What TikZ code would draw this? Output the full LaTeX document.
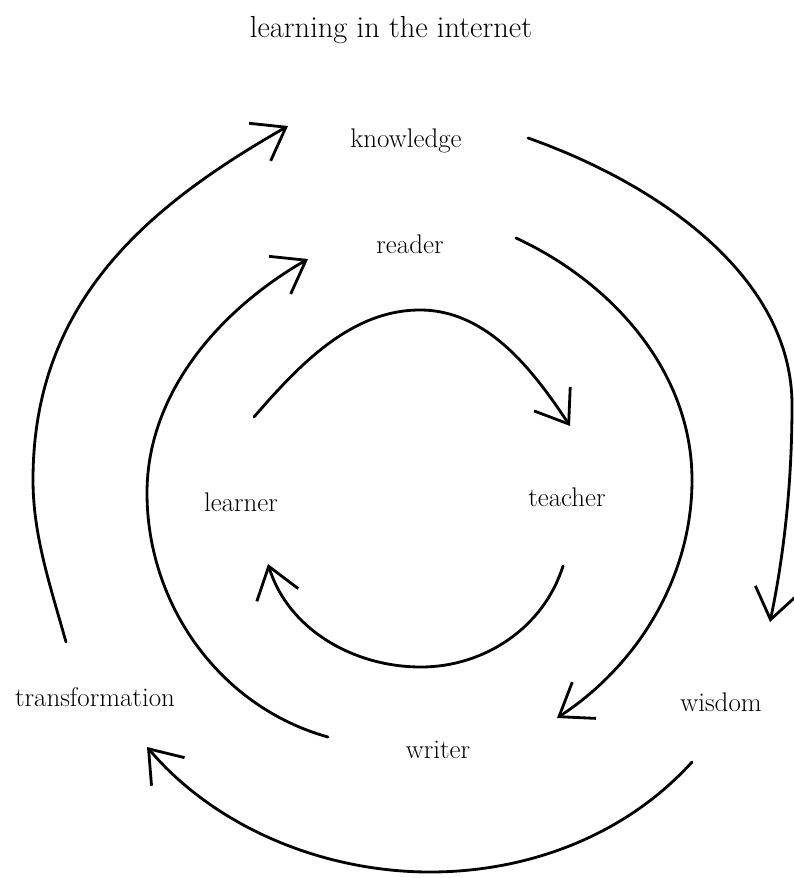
\documentclass[tikz,border=0pt]{standalone}
\usetikzlibrary{arrows.meta}

\begin{document}
\begin{tikzpicture}[x=0.03cm, y=-0.03cm, line width=2.4pt, line cap=round, line join=round,
	word/.style = {inner sep=0pt, font=\fontsize{23}{27}\selectfont},
	loop/.style = {-{Straight Barb[length=0.9cm, width=1.3cm]}}]

	\useasboundingbox (0,0) rectangle (794,878);

	% labels
	\node[word, font=\fontsize{26}{30}\selectfont] (title) at (391,30) {learning in the internet};
	\node[word] (knowledge) at (406,141) {knowledge};
	\node[word] (reader) at (410,244) {reader};
	\node[word] (learner) at (241,502) {learner};
	\node[word] (teacher) at (567,497) {teacher};
	\node[word] (transformation) at (95,697) {transformation};
	\node[word] (wisdom) at (721,702) {wisdom};
	\node[word] (writer) at (438,750) {writer};

	% ends of the arcs
	\coordinate (o1) at (66,642);
	\coordinate (o2) at (33,480);
	\coordinate (o3) at (288,126);
	\coordinate (o4) at (528,138);
	\coordinate (o5) at (792,405);
	\coordinate (o6) at (770,622);
	\coordinate (o7) at (692,762);
	\coordinate (o8) at (430,872);
	\coordinate (o9) at (147,747);

	\coordinate (m1) at (328,737);
	\coordinate (m2) at (147,493);
	\coordinate (m3) at (308,259);
	\coordinate (m4) at (516,238);
	\coordinate (m5) at (692,480);
	\coordinate (m6) at (557,718);

	\coordinate (i1) at (254,417);
	\coordinate (i2) at (420,310);
	\coordinate (i3) at (570,426);
	\coordinate (i4) at (563,566);
	\coordinate (i5) at (421,667);
	\coordinate (i6) at (268,564);

	% outer ring
	\draw[loop] (o1) .. controls (50,585) and (33,535) .. (o2) .. controls (33,300) and (150,205) .. (o3);
	\draw[loop] (o4) .. controls (661,185) and (792,278) .. (o5) .. controls (792,478) and (785,550) .. (o6);
	\draw[loop] (o7) .. controls (626,835) and (529,872) .. (o8) .. controls (324,872) and (216,828) .. (o9);

	% middle ring
	\draw[loop] (m1) .. controls (220,707) and (147,605) .. (m2) .. controls (147,392) and (221,309) .. (m3);
	\draw[loop] (m4) .. controls (613,283) and (692,372) .. (m5) .. controls (692,577) and (638,665) .. (m6);

	% inner ring
	\draw[loop] (i1) .. controls (299,365) and (351,310) .. (i2) .. controls (487,310) and (533,370) .. (i3);
	\draw[loop] (i4) .. controls (544,627) and (485,667) .. (i5) .. controls (353,667) and (288,629) .. (i6);
\end{tikzpicture}
\end{document}
